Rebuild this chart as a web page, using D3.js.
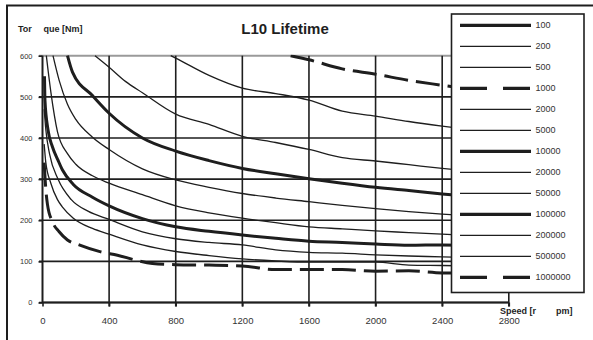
<!DOCTYPE html>
<html>
<head>
<meta charset="UTF-8">
<style>
  body { margin: 0; background: #fff; }
  svg { display: block; font-family: "Liberation Sans", Arial, sans-serif; }
</style>
</head>
<body>
<svg></svg>
<script src="https://d3js.org/d3.v7.min.js"></script>
<script>
// L10 lifetime in hours, legend order
const lifetimes = ["100", "200", "500", "1000", "2000", "5000", "10000",
                   "20000", "50000", "100000", "200000", "500000", "1000000"];
const xTicks = [0, 400, 800, 1200, 1600, 2000, 2400, 2800];
const yTicks = [0, 100, 200, 300, 400, 500, 600];

// [speed rpm, torque Nm]
// 100, 200 and 500 h stay above 600 Nm, so nothing of them shows
const l100 = [];
const l200 = [];
const l500 = [];
const l1000 = [[1490, 600], [1600, 590], [1800, 568], [2000, 555], [2200, 540], [2400, 528], [2800, 505]];
const l2000 = [[770, 600], [800, 594], [1000, 552], [1200, 521], [1400, 508], [1600, 492], [1800, 465],
               [2000, 453], [2200, 440], [2400, 429], [2800, 410]];
const l5000 = [[315, 600], [400, 572], [500, 537], [600, 510], [800, 458], [1000, 433], [1200, 404],
               [1400, 389], [1600, 372], [1800, 352], [2000, 344], [2200, 335], [2400, 326], [2800, 310]];
const l10000 = [[150, 600], [180, 560], [300, 503], [400, 460], [600, 400], [800, 368], [1000, 345],
                [1200, 326], [1400, 313], [1600, 301], [1800, 290], [2000, 280], [2200, 272], [2400, 264], [2800, 252]];
const l20000 = [[63, 600], [100, 540], [150, 482], [200, 445], [300, 402], [400, 372], [600, 325], [800, 298],
                [1000, 280], [1200, 265], [1400, 254], [1600, 245], [1800, 236], [2000, 228], [2200, 221],
                [2400, 215], [2800, 205]];
const l50000 = [[23, 600], [50, 512], [90, 415], [150, 362], [200, 336], [300, 308], [400, 290], [600, 262],
                [800, 235], [1000, 218], [1200, 205], [1400, 194], [1600, 184], [1800, 179], [2000, 174],
                [2200, 170], [2400, 166], [2800, 158]];
const l100000 = [[12, 550], [15, 490], [33, 420], [60, 378], [93, 346], [120, 322], [185, 287], [300, 256],
                 [400, 235], [600, 204], [800, 184], [1000, 173], [1200, 164], [1400, 156], [1600, 149],
                 [1800, 146], [2000, 142], [2200, 139], [2400, 140], [2800, 136]];
const l200000 = [[10, 470], [20, 420], [43, 360], [93, 300], [173, 250], [273, 222], [400, 202], [600, 172],
                 [800, 155], [1000, 146], [1200, 140], [1400, 128], [1600, 122], [1800, 120], [2000, 116],
                 [2200, 113], [2400, 111], [2800, 107]];
const l500000 = [[10, 385], [20, 340], [50, 290], [90, 250], [120, 232], [185, 205], [300, 180], [400, 166],
                 [600, 140], [800, 124], [1000, 114], [1200, 106], [1400, 101], [1600, 98], [1800, 98],
                 [2000, 98], [2200, 91], [2400, 90], [2800, 87]];
const l1000000 = [[10, 340], [20, 275], [30, 238], [60, 196], [100, 172], [150, 152], [220, 140], [350, 123],
                  [450, 115], [560, 103], [660, 95], [800, 92], [1000, 91], [1200, 89], [1400, 80], [1600, 80],
                  [1800, 80], [2000, 76], [2200, 77], [2400, 72], [2800, 70]];

const series = [l100, l200, l500, l1000, l2000, l5000, l10000,
                l20000, l50000, l100000, l200000, l500000, l1000000];

const thick = ["100", "10000", "100000"];
const dashed = ["1000", "1000000"];

let width = 593, height = 340;
let svg = d3.select("svg").attr("width", width).attr("height", height);

let x = d3.scaleLinear().domain([0, 2800]).range([42.5, 508.8]);
let y = d3.scaleLinear().domain([0, 600]).range([302.5, 55.7]);

let ink = "#1e1e1e";

// outer frame (top + left only)
svg.append("line").attr("x1", 6).attr("x2", width).attr("y1", 5.5).attr("y2", 5.5)
  .attr("stroke", ink).attr("stroke-width", 2);
svg.append("line").attr("x1", 7).attr("x2", 7).attr("y1", 5).attr("y2", height)
  .attr("stroke", ink).attr("stroke-width", 2);

// title and axis names
svg.append("text").attr("x", 285).attr("y", 34).attr("text-anchor", "middle")
  .style("font-size", "15px").style("font-weight", "bold").attr("fill", ink)
  .text("L10 Lifetime");
svg.append("text").attr("x", 18).attr("y", 32).style("font-size", "9px")
  .style("font-weight", "bold").attr("fill", ink).text("Tor");
svg.append("text").attr("x", 43.5).attr("y", 32).style("font-size", "9px")
  .style("font-weight", "bold").attr("fill", ink).text("que [Nm]");

// grid
let grid = svg.append("g");
grid.selectAll(".hgrid").data(yTicks).enter().append("line")
  .attr("x1", 39).attr("x2", x(2800))
  .attr("y1", d => y(d)).attr("y2", d => y(d))
  .attr("stroke", d => d === 600 ? "#9a9a9a" : ink)
  .attr("stroke-width", d => d === 600 ? 2 : 1.6);
grid.selectAll(".vgrid").data(xTicks.slice(1)).enter().append("line")
  .attr("x1", d => x(d)).attr("x2", d => x(d))
  .attr("y1", y(600)).attr("y2", y(0) + 4)
  .attr("stroke", ink).attr("stroke-width", 1.6);

// axes
let yAxis = svg.append("g").attr("transform", `translate(${x(0)},0)`)
  .call(d3.axisLeft(y).tickValues(yTicks).tickSize(4).tickPadding(6));
let xAxis = svg.append("g").attr("transform", `translate(0,${y(0)})`)
  .call(d3.axisBottom(x).tickValues(xTicks).tickFormat(d3.format("d")).tickSize(4).tickPadding(11));
[yAxis, xAxis].forEach(a => {
  a.select(".domain").remove();
  a.selectAll("line").attr("stroke", ink).attr("stroke-width", 1.6);
  a.selectAll("text").attr("fill", "#333").style("font-family", "inherit");
});
yAxis.selectAll("text").style("font-size", "7.5px");
xAxis.selectAll("text").style("font-size", "9.5px");

svg.append("line").attr("x1", x(0)).attr("x2", x(0)).attr("y1", y(600)).attr("y2", y(0))
  .attr("stroke", ink).attr("stroke-width", 2);
svg.append("line").attr("x1", x(0)).attr("x2", x(2800)).attr("y1", y(0)).attr("y2", y(0))
  .attr("stroke", ink).attr("stroke-width", 2);

// lifetime curves
svg.append("clipPath").attr("id", "plot").append("rect")
  .attr("x", x(0)).attr("y", y(600) - 1).attr("width", x(2800) - x(0)).attr("height", y(0) - y(600) + 1);

let line = d3.line().x(d => x(d[0])).y(d => y(d[1])).curve(d3.curveMonotoneX);

svg.append("g").attr("clip-path", "url(#plot)")
  .selectAll("path")
  .data(series.map((s, i) => ({ name: lifetimes[i], pts: s })).filter(d => d.pts.length))
  .enter().append("path")
  .attr("d", d => line(d.pts))
  .attr("fill", "none")
  .attr("stroke", ink)
  .attr("stroke-width", d => thick.includes(d.name) || dashed.includes(d.name) ? 3 : 1.3)
  .attr("stroke-dasharray", d => dashed.includes(d.name) ? "24,8" : null);

// speed axis name, sits just above the 2800 label
svg.append("text").attr("x", 500).attr("y", 313.5).style("font-size", "9px")
  .style("font-weight", "bold").attr("fill", ink).text("Speed [r");
svg.append("text").attr("x", 556).attr("y", 313.5).style("font-size", "9px")
  .style("font-weight", "bold").attr("fill", ink).text("pm]");

// legend
let legend = svg.append("g");
legend.append("rect").attr("x", 451.5).attr("y", 14).attr("width", 132.5).attr("height", 278.5)
  .attr("fill", "#fff").attr("stroke", ink).attr("stroke-width", 1.6);

let rows = legend.selectAll(".row").data(lifetimes).enter().append("g")
  .attr("transform", (d, i) => `translate(0,${25.3 + i * 21})`);
rows.append("line").attr("x1", 460).attr("x2", 531).attr("y1", 0).attr("y2", 0)
  .attr("stroke", ink)
  .attr("stroke-width", d => thick.includes(d) || dashed.includes(d) ? 3.2 : 1.3)
  .attr("stroke-dasharray", d => dashed.includes(d) ? "27,16" : null);
rows.append("text").attr("x", 535.5).attr("y", 0).attr("dy", "0.35em")
  .style("font-size", "9px").attr("fill", "#333").text(d => d);
</script>
</body>
</html>
